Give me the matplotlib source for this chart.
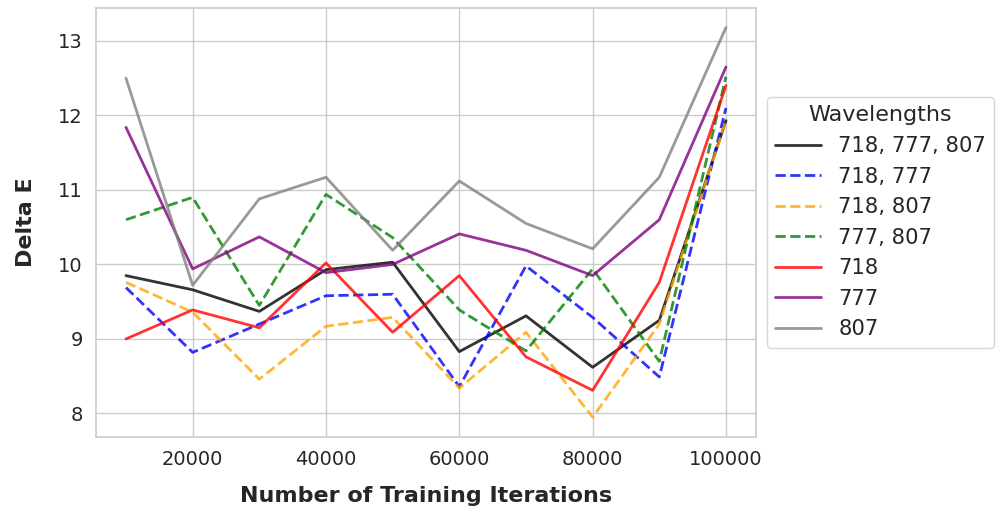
import matplotlib
matplotlib.use("Agg")
import matplotlib.pyplot as plt
import seaborn as sns

iterations = [10000, 20000, 30000, 40000, 50000, 60000, 70000, 80000, 90000, 100000]
labels = ["718, 777, 807", "718, 777", "718, 807", "777, 807", "718", "777", "807"]
v_718_777_807 = [9.85, 9.66, 9.37, 9.93, 10.03, 8.83, 9.31, 8.62, 9.25, 11.93]
v_718_777 = [9.69, 8.82, 9.20, 9.58, 9.60, 8.36, 9.98, 9.29, 8.49, 12.10]
v_718_807 = [9.76, 9.36, 8.46, 9.17, 9.29, 8.34, 9.09, 7.95, 9.20, 11.93]
v_777_807 = [10.60, 10.90, 9.45, 10.94, 10.36, 9.39, 8.84, 9.94, 8.70, 12.52]
v_718 = [9.00, 9.39, 9.15, 10.02, 9.09, 9.85, 8.76, 8.31, 9.76, 12.40]
v_777 = [11.84, 9.94, 10.37, 9.89, 10.00, 10.41, 10.19, 9.85, 10.60, 12.65]
v_807 = [12.50, 9.72, 10.88, 11.17, 10.19, 11.12, 10.55, 10.21, 11.17, 13.18]

series = [v_718_777_807, v_718_777, v_718_807, v_777_807, v_718, v_777, v_807]
colors = ["black", "blue", "orange", "green", "red", "purple", "gray"]
styles = ["-", "--", "--", "--", "-", "-", "-"]

sns.set_theme(style="whitegrid")
plt.rcParams['font.family'] = ['DejaVu Sans']

fig = plt.figure(figsize=(10.05, 5.16), dpi=100)
ax = fig.add_axes([0.0955, 0.1537, 0.6567, 0.8308])
for vals, lab, c, ls in zip(series, labels, colors, styles):
    ax.plot(iterations, vals, color=c, linestyle=ls, linewidth=2, alpha=0.8, label=lab)

ax.set_xticks([20000, 40000, 60000, 80000, 100000])
ax.set_yticks([8, 9, 10, 11, 12, 13])
ax.tick_params(labelsize=14)
ax.set_xlabel("Number of Training Iterations", fontsize=16, fontweight="bold", labelpad=12)
ax.set_ylabel("Delta E", fontsize=16, fontweight="bold", labelpad=16)
ax.legend(title="Wavelengths", loc="center left", bbox_to_anchor=(1.0, 0.5),
          fontsize=15.2, title_fontsize=16, handlelength=2.2)
fig.savefig("out.png", dpi=100)
